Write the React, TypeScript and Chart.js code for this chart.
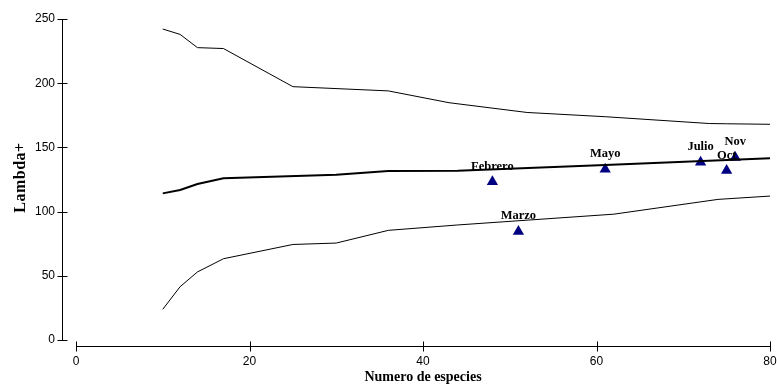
import React, { useEffect, useRef } from "react";
import { Chart, registerables } from "chart.js";

Chart.register(...registerables);

const X_TICKS = [0, 20, 40, 60, 80];
const Y_TICKS = [0, 50, 100, 150, 200, 250];

const UPPER_X = [10, 12, 14, 17, 25, 36, 43, 52, 61, 73, 75, 80];
const UPPER_Y = [242.2, 238, 227.7, 227, 197.3, 194, 184.8, 177.2, 173.9, 168.6, 168.4, 168];

const MID_X = [10, 12, 14, 17, 30, 36, 44, 61, 80];
const MID_Y = [114.2, 116.8, 121.5, 125.9, 128.7, 131.6, 131.9, 136.3, 141.5];

const LOWER_X = [10, 12, 14, 17, 25, 30, 36, 44, 62, 74, 80];
const LOWER_Y = [23.9, 41.5, 53, 63.3, 74.4, 75.5, 85.4, 89.6, 98, 109.5, 112.1];

const MONTHS = ["Febrero", "Marzo", "Mayo", "Julio", "Oct", "Nov"];
const MONTH_X = [48, 51, 61, 72, 75, 76];
const MONTH_Y = [123.3, 84.6, 133, 138.5, 132, 142.2];

const X_TITLE = "Numero de especies";
const Y_TITLE = "Lambda+";

const toPts = (xs: number[], ys: number[]) => xs.map((x, i) => ({ x, y: ys[i] }));

const axesPlugin = {
  id: "customAxes",
  afterDraw(chart: any) {
    const { ctx, chartArea, scales } = chart;
    const xs = scales.x;
    const ys = scales.y;
    ctx.save();
    ctx.strokeStyle = "#000";
    ctx.lineWidth = 1;
    // y axis
    const ax = Math.round(chartArea.left) + 0.5;
    ctx.beginPath();
    ctx.moveTo(ax, Math.round(ys.getPixelForValue(Y_TICKS[Y_TICKS.length - 1])));
    ctx.lineTo(ax, Math.round(ys.getPixelForValue(Y_TICKS[0])) + 1);
    for (const v of Y_TICKS) {
      const py = Math.round(ys.getPixelForValue(v)) + 0.5;
      ctx.moveTo(ax - 5, py);
      ctx.lineTo(ax + 5, py);
    }
    ctx.stroke();
    // x axis
    const ay = Math.round(chartArea.bottom) + 0.5;
    ctx.beginPath();
    ctx.moveTo(Math.round(xs.getPixelForValue(X_TICKS[0])), ay);
    ctx.lineTo(Math.round(xs.getPixelForValue(X_TICKS[X_TICKS.length - 1])) + 1, ay);
    for (const v of X_TICKS) {
      const px = Math.round(xs.getPixelForValue(v)) + 0.5;
      ctx.moveTo(px, ay - 5);
      ctx.lineTo(px, ay + 5);
    }
    ctx.stroke();

    // titles
    ctx.fillStyle = "#000";
    ctx.font = "bold 14px 'Liberation Serif', 'Times New Roman', serif";
    ctx.textAlign = "center";
    ctx.textBaseline = "alphabetic";
    const xMid = xs.getPixelForValue((X_TICKS[0] + X_TICKS[X_TICKS.length - 1]) / 2);
    ctx.fillText(X_TITLE, xMid, chartArea.bottom + 35);
    const yMid = ys.getPixelForValue((Y_TICKS[0] + Y_TICKS[Y_TICKS.length - 1]) / 2);
    ctx.font = "bold 16px 'Liberation Serif', 'Times New Roman', serif";
    try {
      (ctx as any).letterSpacing = "0.5px";
    } catch (e) {}
    ctx.translate(25, yMid - 2);
    ctx.rotate(-Math.PI / 2);
    ctx.fillText(Y_TITLE, 0, 0);
    ctx.restore();

    // point labels
    const meta = chart.getDatasetMeta(3);
    ctx.save();
    ctx.fillStyle = "#000";
    ctx.font = "bold 12.5px 'Liberation Serif', 'Times New Roman', serif";
    ctx.textAlign = "center";
    ctx.textBaseline = "alphabetic";
    meta.data.forEach((el: any, i: number) => {
      ctx.fillText(MONTHS[i], el.x, el.y - 12);
    });
    ctx.restore();
  },
};

export default function App() {
  const ref = useRef<HTMLCanvasElement>(null);
  useEffect(() => {
    document.body.style.margin = "0";
    document.body.style.overflow = "hidden";
    const canvas = ref.current!;
    const tickFont = { family: "'Liberation Sans', Arial, sans-serif", size: 12 };
    const chart = new Chart(canvas, {
      type: "scatter",
      data: {
        datasets: [
          {
            data: toPts(UPPER_X, UPPER_Y),
            showLine: true,
            borderColor: "#000",
            borderWidth: 1,
            pointRadius: 0,
            tension: 0,
          },
          {
            data: toPts(MID_X, MID_Y),
            showLine: true,
            borderColor: "#000",
            borderWidth: 2,
            pointRadius: 0,
            tension: 0,
          },
          {
            data: toPts(LOWER_X, LOWER_Y),
            showLine: true,
            borderColor: "#000",
            borderWidth: 1,
            pointRadius: 0,
            tension: 0,
          },
          {
            data: toPts(MONTH_X, MONTH_Y),
            showLine: false,
            pointStyle: "triangle",
            pointRadius: 6.5,
            backgroundColor: "#000080",
            borderColor: "#000080",
            borderWidth: 0,
          },
        ],
      },
      options: {
        responsive: false,
        animation: false,
        devicePixelRatio: 1,
        layout: { padding: { left: 0, top: 19, right: 7, bottom: 0 } },
        plugins: { legend: { display: false }, tooltip: { enabled: false } },
        scales: {
          x: {
            type: "linear",
            min: -1.614,
            max: 80,
            border: { display: false },
            grid: { display: true, drawOnChartArea: false, drawTicks: false, color: "rgba(0,0,0,0)" },
            ticks: { color: "#000", font: tickFont, padding: 8, maxRotation: 0 },
            afterBuildTicks: (s: any) => {
              s.ticks = X_TICKS.map((v) => ({ value: v }));
            },
            afterFit: (s: any) => {
              s.height = 40;
              s.paddingLeft = 0;
              s.paddingRight = 0;
            },
          },
          y: {
            type: "linear",
            min: -4.67,
            max: 250,
            border: { display: false },
            grid: { display: true, drawOnChartArea: false, drawTicks: false, color: "rgba(0,0,0,0)" },
            ticks: { color: "#000", font: tickFont, padding: 7 },
            afterBuildTicks: (s: any) => {
              s.ticks = Y_TICKS.map((v) => ({ value: v }));
            },
            afterFit: (s: any) => {
              s.width = 62;
              s.paddingTop = 0;
              s.paddingBottom = 0;
            },
          },
        },
      },
      plugins: [axesPlugin],
    } as any);
    return () => chart.destroy();
  }, []);
  return (
    <div style={{ width: 777, height: 386 }}>
      <canvas ref={ref} width={777} height={386} style={{ display: "block" }} />
    </div>
  );
}
